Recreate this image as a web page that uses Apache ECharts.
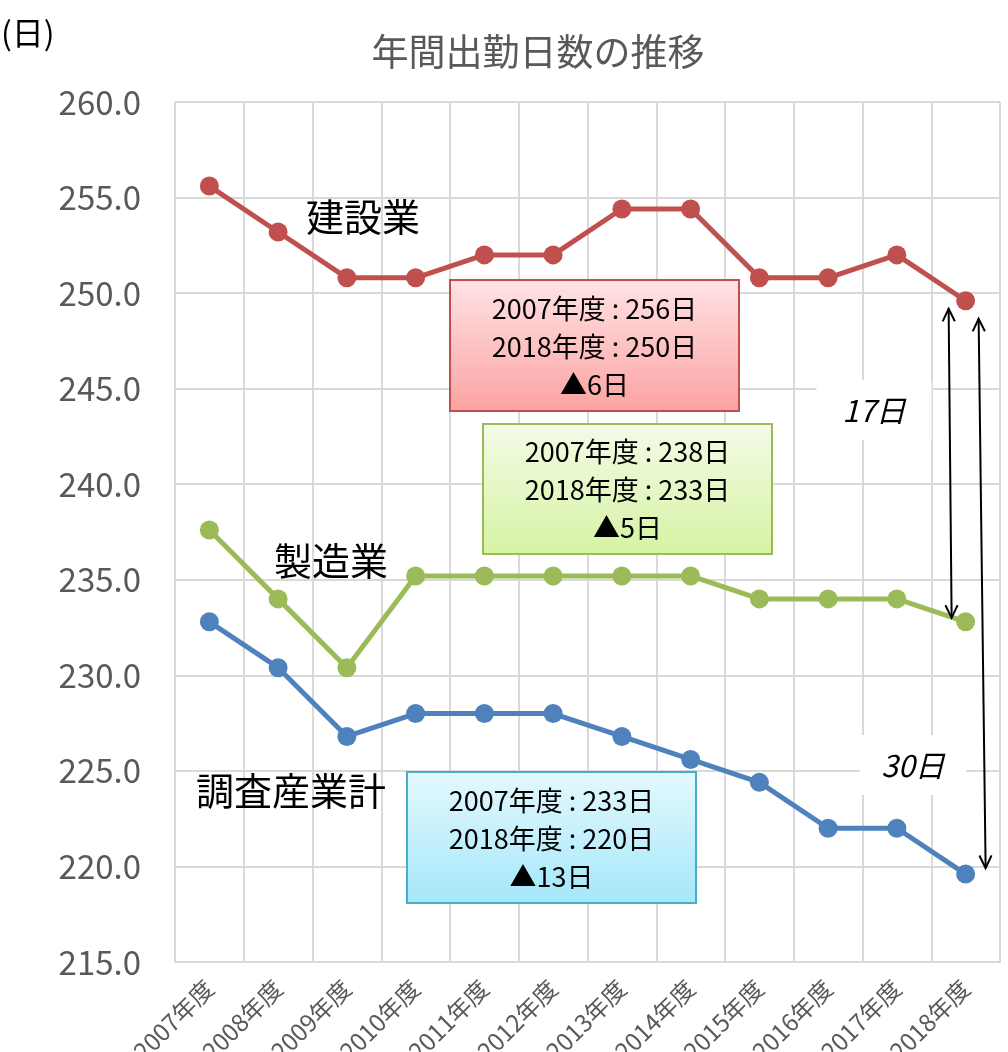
<!DOCTYPE html>
<html>
<head>
<meta charset="utf-8">
<script src="https://cdn.jsdelivr.net/npm/echarts@6/dist/echarts.min.js"></script>
<style>
  html, body { margin: 0; padding: 0; background: #fff; }
  #chart { width: 1008px; height: 1052px; }
</style>
</head>
<body>
<div id="chart"></div>
<script>
const years = ['2007年度', '2008年度', '2009年度', '2010年度', '2011年度', '2012年度', '2013年度', '2014年度', '2015年度', '2016年度', '2017年度', '2018年度'];
const construction = [255.6, 253.2, 250.8, 250.8, 252.0, 252.0, 254.4, 254.4, 250.8, 250.8, 252.0, 249.6];
const manufacturing = [237.6, 234.0, 230.4, 235.2, 235.2, 235.2, 235.2, 235.2, 234.0, 234.0, 234.0, 232.8];
const allIndustries = [232.8, 230.4, 226.8, 228.0, 228.0, 228.0, 226.8, 225.6, 224.4, 222.0, 222.0, 219.6];
const seriesNames = ['建設業', '製造業', '調査産業計'];
const boxLines = [
  ['2007年度 : 256日', '2018年度 : 250日', '▲6日'],
  ['2007年度 : 238日', '2018年度 : 233日', '▲5日'],
  ['2007年度 : 233日', '2018年度 : 220日', '▲13日']
];
const gapLabels = ['17日', '30日'];

const FONT = '"Noto Sans CJK JP", "Noto Sans", sans-serif';
const colors = ['#c0504d', '#9bbb59', '#4f81bd'];

const chart = echarts.init(document.getElementById('chart'), null, { renderer: 'canvas' });

const lineSeries = (name, data, color) => ({
  name, type: 'line', data,
  symbol: 'circle', symbolSize: 19,
  lineStyle: { color, width: 5 },
  itemStyle: { color },
  z: 3, animation: false
});

function textBox(x, y, w, h, lines, top, bottom, border) {
  return {
    type: 'group', x, y, z: 10,
    children: [
      { type: 'rect', shape: { x: 0, y: 0, width: w, height: h },
        style: { fill: new echarts.graphic.LinearGradient(0, 0, 0, 1, [{ offset: 0, color: top }, { offset: 1, color: bottom }]), stroke: border, lineWidth: 2 } },
      { type: 'text', x: w / 2, y: h / 2 + 1,
        style: { text: lines.join('\n'), font: '27px ' + FONT, fill: '#000', align: 'center', verticalAlign: 'middle', lineHeight: 38 } }
    ]
  };
}

function plainText(x, y, text, size) {
  return { type: 'text', x, y, z: 10,
    style: { text, font: size + 'px ' + FONT, fill: '#000', verticalAlign: 'middle' } };
}

function gapText(cx, cy, w, h, text) {
  return {
    type: 'group', x: cx, y: cy, z: 11,
    children: [
      { type: 'rect', shape: { x: -w / 2, y: -h / 2, width: w, height: h }, style: { fill: '#fff' } },
      { type: 'text', x: 0, y: 1, style: { text, font: 'italic 30px ' + FONT, fill: '#000', align: 'center', verticalAlign: 'middle' } }
    ]
  };
}

chart.setOption({
  backgroundColor: '#fff',
  animation: false,
  title: {
    text: '年間出勤日数の推移', left: 533, top: 28, textAlign: 'center',
    textStyle: { fontFamily: FONT, fontSize: 37, fontWeight: 'normal', color: '#595959' }
  },
  grid: { left: 175, right: 8, top: 102, bottom: 90, containLabel: false, outerBoundsMode: 'none' },
  xAxis: {
    type: 'category', data: years, boundaryGap: true,
    axisLine: { lineStyle: { color: '#d9d9d9', width: 2 } },
    axisTick: { show: false },
    splitLine: { show: true, lineStyle: { color: '#d9d9d9', width: 2 } },
    axisLabel: { rotate: 45, margin: 22, fontSize: 24, color: '#595959', fontFamily: FONT, interval: 0 }
  },
  yAxis: {
    type: 'value', min: 215, max: 260, interval: 5,
    axisLine: { show: false }, axisTick: { show: false },
    splitLine: { lineStyle: { color: '#d9d9d9', width: 2 } },
    axisLabel: { formatter: v => v.toFixed(1), fontSize: 33, color: '#595959', fontFamily: FONT, margin: 34 }
  },
  series: [
    lineSeries(seriesNames[0], construction, colors[0]),
    lineSeries(seriesNames[1], manufacturing, colors[1]),
    lineSeries(seriesNames[2], allIndustries, colors[2])
  ]
});

// annotations anchored on the last data points
const last = years.length - 1;
const pRed = chart.convertToPixel({ seriesIndex: 0 }, [last, construction[last]]);
const pGreen = chart.convertToPixel({ seriesIndex: 1 }, [last, manufacturing[last]]);
const pBlue = chart.convertToPixel({ seriesIndex: 2 }, [last, allIndustries[last]]);

function arrow(x1, y1, x2, y2) {
  const a = Math.atan2(y2 - y1, x2 - x1);
  const L = 14, s = 0.45;
  const head = (x, y, ang) => ({
    type: 'polyline', z: 12,
    shape: { points: [[x + L * Math.cos(ang + s), y + L * Math.sin(ang + s)], [x, y], [x + L * Math.cos(ang - s), y + L * Math.sin(ang - s)]] },
    style: { stroke: '#000', lineWidth: 2, fill: null }
  });
  return [
    { type: 'line', z: 12, shape: { x1, y1, x2, y2 }, style: { stroke: '#000', lineWidth: 2 } },
    head(x1, y1, a), head(x2, y2, a + Math.PI)
  ];
}

chart.setOption({
  graphic: [
    plainText(1, 33, '(日)', 32),
    plainText(306, 217, seriesNames[0], 38),
    plainText(274, 561, seriesNames[1], 38),
    plainText(196, 791, seriesNames[2], 38),
    textBox(450, 280, 289, 131, boxLines[0], '#ffe3e4', '#fca2a2', '#c0504d'),
    textBox(483, 424, 289, 130, boxLines[1], '#f4fbe7', '#d5f3a3', '#9bbb59'),
    textBox(407, 772, 289, 131, boxLines[2], '#e4f9fe', '#a4e7fa', '#4bacc6'),
    gapText(874, 410, 115, 60, gapLabels[0]),
    gapText(913, 765, 106, 60, gapLabels[1]),
    ...arrow(pRed[0] - 17, pRed[1] + 8, pGreen[0] - 14, pGreen[1] - 4),
    ...arrow(pRed[0] + 13, pRed[1] + 18, pBlue[0] + 20, pBlue[1] - 6)
  ]
});

window.addEventListener('resize', () => chart.resize());
</script>
</body>
</html>
